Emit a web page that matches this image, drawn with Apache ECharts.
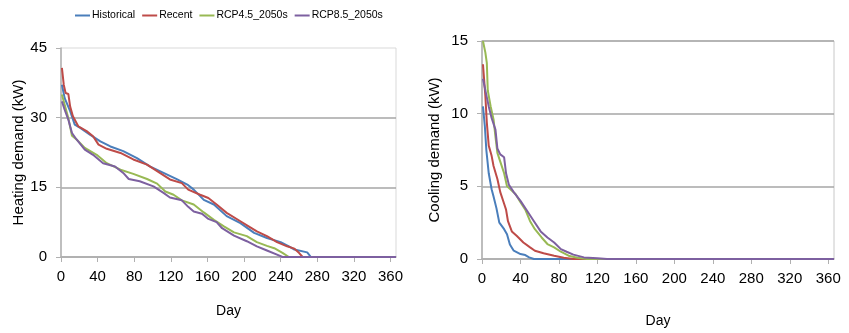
<!DOCTYPE html>
<html>
<head>
<meta charset="utf-8">
<script src="https://cdn.jsdelivr.net/npm/echarts@6/dist/echarts.min.js"></script>
<style>
  html, body { margin: 0; padding: 0; background: #fff; }
  #chart { width: 849px; height: 333px; }
</style>
</head>
<body>
<div id="chart"></div>
<script>
// series names
const seriesNames = ['Historical', 'Recent', 'RCP4.5_2050s', 'RCP8.5_2050s']
const dayTicks = [0, 40, 80, 120, 160, 200, 240, 280, 320, 360]

// heating duration curves [day, kW]
const heatHistorical = [[1, 37.1], [4, 34.2], [10, 31.4], [15, 28.5], [21, 27.8], [32, 26.3], [43, 24.9], [54, 23.8], [68, 22.8], [83, 21.3], [97, 19.5], [112, 18.1], [127, 16.7], [138, 15.6], [145, 14.5], [156, 12.3], [167, 11.3], [181, 8.8], [196, 7.3], [211, 5.2], [225, 4.1], [240, 3.2], [249, 2.3], [255, 1.6], [269, 1.0], [273, 0], [366, 0]]
const heatRecent = [[1, 40.7], [3, 37.1], [5, 35.3], [8, 35.1], [10, 32.4], [13, 30.3], [19, 28.1], [28, 27.1], [35, 26.0], [41, 24.2], [50, 23.3], [65, 22.4], [79, 21.0], [94, 19.9], [108, 18.1], [119, 16.7], [132, 15.9], [139, 14.5], [152, 13.4], [161, 12.7], [170, 11.3], [181, 9.5], [196, 7.7], [205, 6.6], [214, 5.5], [225, 4.5], [236, 3.2], [247, 2.3], [255, 1.8], [260, 0.9], [264, 0], [366, 0]]
const heatRcp45 = [[1, 35.0], [4, 32.8], [8, 29.9], [12, 26.1], [17, 25.3], [26, 23.5], [39, 22.0], [50, 20.2], [65, 18.8], [79, 17.9], [94, 16.8], [105, 15.8], [114, 14.1], [123, 13.4], [132, 12.2], [145, 11.3], [156, 9.6], [167, 8.0], [178, 6.6], [189, 5.3], [203, 4.5], [214, 3.2], [225, 2.4], [233, 1.9], [242, 0.9], [249, 0], [366, 0]]
const heatRcp85 = [[1, 33.5], [4, 31.7], [8, 29.6], [12, 26.7], [17, 25.3], [26, 23.1], [35, 22.0], [46, 20.2], [59, 19.5], [68, 18.1], [74, 16.8], [86, 16.3], [101, 15.2], [112, 13.8], [119, 12.8], [132, 12.2], [139, 10.8], [145, 9.8], [154, 9.3], [161, 8.2], [170, 7.5], [176, 6.2], [189, 4.6], [203, 3.4], [214, 2.3], [225, 1.4], [236, 0.5], [242, 0], [366, 0]]

// cooling duration curves [day, kW]
const coolHistorical = [[1, 10.5], [3, 9.1], [4.5, 7.5], [7, 5.9], [10, 4.8], [12, 4.3], [15, 3.5], [18, 2.5], [23, 2.05], [26, 1.7], [29, 1.0], [33, 0.57], [40, 0.34], [45, 0.27], [49, 0.11], [54, 0], [366, 0]]
const coolRecent = [[1, 13.4], [3.5, 11.2], [5, 9.4], [7, 7.8], [10, 7.1], [12, 6.4], [16, 5.5], [19, 4.6], [23, 3.8], [25, 3.4], [27, 2.6], [31, 1.9], [36, 1.6], [43, 1.14], [50, 0.8], [55, 0.57], [64, 0.39], [75, 0.23], [85, 0.09], [95, 0], [366, 0]]
const coolRcp45 = [[1, 15.0], [3.5, 14.2], [5, 13.5], [6, 11.6], [9, 10.5], [12, 9.6], [14, 8.4], [16, 7.3], [19, 6.7], [23, 5.9], [26, 5.0], [29.5, 4.8], [35, 4.45], [40, 3.9], [45, 3.4], [50, 2.6], [55, 2.05], [62, 1.48], [68, 1.03], [75, 0.8], [82, 0.5], [90, 0.23], [99, 0.09], [109, 0], [366, 0]]
const coolRcp85 = [[1, 12.4], [3.5, 11.6], [7, 10.5], [10, 9.7], [14, 8.9], [16, 7.6], [19, 7.2], [23, 7.0], [25, 5.9], [28, 5.1], [33, 4.6], [40, 4.0], [47, 3.3], [54, 2.6], [61, 1.9], [68, 1.48], [75, 1.14], [82, 0.68], [88, 0.5], [95, 0.3], [106, 0.11], [120, 0.05], [130, 0], [366, 0]]

const colors = ['#4a7ebb', '#be4b48', '#98b954', '#7d60a0']
const tickFont = { fontFamily: 'Liberation Sans', fontSize: 15, color: '#000' }
const nameFont = { fontFamily: 'Liberation Sans', fontSize: 15, color: '#000' }

function xAxisFor(gridIndex, nameGap) {
  return {
    type: 'value', gridIndex, min: 0, max: 366,
    name: 'Day', nameLocation: 'middle', nameGap,
    nameTextStyle: { ...nameFont, fontSize: 14 },
    axisLine: { lineStyle: { color: '#b0b0b0', width: 1.5 } },
    axisTick: { show: true, length: 5, customValues: dayTicks, lineStyle: { color: '#b0b0b0' } },
    axisLabel: { ...tickFont, margin: 12, customValues: dayTicks },
    splitLine: { show: false },
  }
}

function yAxisFor(gridIndex, name, max, interval, nameGap, showMaxLine) {
  return {
    type: 'value', gridIndex, min: 0, max, interval,
    name, nameLocation: 'middle', nameGap,
    nameTextStyle: nameFont,
    axisLine: { show: true, lineStyle: { color: '#b0b0b0', width: 1.5 } },
    axisTick: { show: true, length: 5, lineStyle: { color: '#b0b0b0' } },
    axisLabel: { ...tickFont, margin: 14 },
    splitLine: { show: true, showMaxLine, lineStyle: { color: '#a6a6a6', width: 1.5 } },
  }
}

function lineSeries(name, data, idx) {
  return {
    name, type: 'line', data,
    xAxisIndex: idx, yAxisIndex: idx,
    symbol: 'none', animation: false,
    lineStyle: { width: 2 },
  }
}

const chart = echarts.init(document.getElementById('chart'))
chart.setOption({
  color: colors,
  animation: false,
  legend: {
    data: seriesNames,
    left: 70, top: 5,
    icon: 'rect', itemWidth: 15, itemHeight: 2, itemGap: 7,
    textStyle: { fontFamily: 'Liberation Sans', fontSize: 10.5, color: '#000', padding: [0, 0, 0, -3] },
  },
  grid: [
    { left: 61, top: 48, width: 335, height: 209, show: true, borderColor: '#d9d9d9', borderWidth: 1 },
    { left: 482, top: 41, width: 352, height: 219, show: true, borderColor: '#c8c8c8', borderWidth: 1 },
  ],
  xAxis: [xAxisFor(0, 47), xAxisFor(1, 55)],
  yAxis: [
    yAxisFor(0, 'Heating demand (kW)', 45, 15, 34, false),
    yAxisFor(1, 'Cooling demand (kW)', 15, 5, 40, true),
  ],
  series: [
    lineSeries(seriesNames[0], heatHistorical, 0),
    lineSeries(seriesNames[1], heatRecent, 0),
    lineSeries(seriesNames[2], heatRcp45, 0),
    lineSeries(seriesNames[3], heatRcp85, 0),
    lineSeries(seriesNames[0], coolHistorical, 1),
    lineSeries(seriesNames[1], coolRecent, 1),
    lineSeries(seriesNames[2], coolRcp45, 1),
    lineSeries(seriesNames[3], coolRcp85, 1),
  ],
})
</script>
</body>
</html>
